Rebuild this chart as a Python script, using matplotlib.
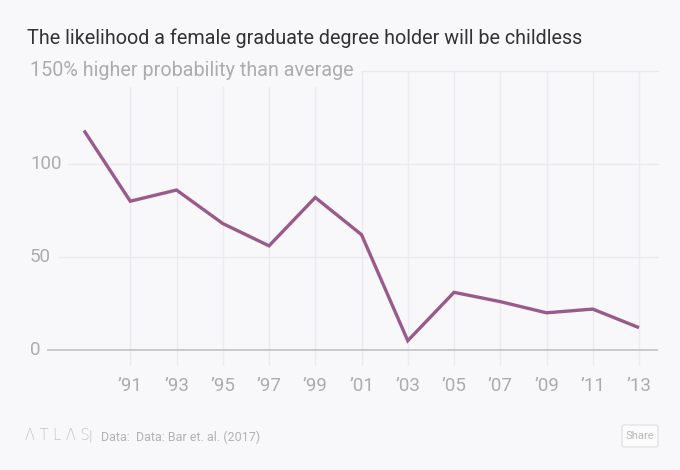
import matplotlib
matplotlib.use("Agg")
import matplotlib.pyplot as plt
import matplotlib.transforms as mtransforms
from matplotlib.patches import FancyBboxPatch

# ---- data ----
years = [1989, 1991, 1993, 1995, 1997, 1999, 2001, 2003, 2005, 2007, 2009, 2011, 2013]
values = [118, 80, 86, 68, 56, 82, 62, 5, 31, 26, 20, 22, 12]
tick_years = [1991, 1993, 1995, 1997, 1999, 2001, 2003, 2005, 2007, 2009, 2011, 2013]
tick_labels = ["\u201991", "\u201993", "\u201995", "\u201997", "\u201999", "\u201901",
               "\u201903", "\u201905", "\u201907", "\u201909", "\u201911", "\u201913"]
y_gridvals = [0, 50, 100, 150]
y_labels = ["0", "50", "100", "150% higher probability than average"]

title = "The likelihood a female graduate degree holder will be childless"
source = "Data:  Data: Bar et. al. (2017)"

BG = "#f8f7f9"
LINE = "#9a5a8b"
GRID = "#eceaef"
LABEL = "#acacac"

W, H = 680, 470
fig = plt.figure(figsize=(W / 100, H / 100), dpi=100, facecolor=BG)

# axes in pixel geometry
ax_left, ax_right = 47, 658
ax_top, ax_bottom = 71, 366
ax = fig.add_axes([ax_left / W, (H - ax_bottom) / H,
                   (ax_right - ax_left) / W, (ax_bottom - ax_top) / H])
ax.set_facecolor(BG)
for s in ax.spines.values():
    s.set_visible(False)

ax.set_xlim(1987.4, 2013.82)
ax.set_ylim(-8.6, 150)

# vertical grid
for yr in tick_years:
    ax.axvline(yr, color=GRID, lw=1, zorder=1)
# horizontal grid
for v in y_gridvals[1:]:
    ax.axhline(v, color=GRID, lw=1, zorder=1, clip_on=False)
ax.axhline(0, color="#bdbdbd", lw=1.1, zorder=2)

ax.plot(years, values, color=LINE, lw=2.4, zorder=4, solid_joinstyle="miter",
        solid_capstyle="butt")

ax.set_yticks([])
ax.set_xticks(tick_years)
ax.set_xticklabels(tick_labels, fontsize=13.5, color=LABEL, family="Roboto")
ax.tick_params(axis="x", length=0, pad=8)

# y labels with background boxes covering gridlines
trans = mtransforms.blended_transform_factory(fig.transFigure, ax.transData)
for v, lab in zip(y_gridvals, y_labels):
    size = 13.5 if v != 150 else 14.2
    ax.text(30 / W, v, lab, transform=trans, ha="left", va="center",
            fontsize=size, color=LABEL, family="Roboto",
            zorder=5, clip_on=False,
            bbox=dict(boxstyle="square,pad=0.35", fc=BG, ec="none"))

# title
fig.text(27 / W, 1 - 38 / H, title, ha="left", va="center", fontsize=14.2,
         color="#333333", family="Roboto")

# footer
fig.text(25 / W, 1 - 436 / H, "\u039b T L \u039b S", ha="left", va="center",
         fontsize=10.5, color="#c4c4c4", family="DejaVu Sans", fontweight="light")
fig.text(89 / W, 1 - 436 / H, "|", ha="left", va="center", fontsize=10,
         color="#cfcfcf", family="Roboto")
fig.text(101 / W, 1 - 437 / H, source, ha="left", va="center", fontsize=9,
         color="#b3b3b3", family="Roboto")

# share button
btn = FancyBboxPatch((622 / W, 1 - 447 / H), 36 / W, 22 / H,
                     boxstyle="round,pad=0,rounding_size=0.004",
                     transform=fig.transFigure, fc="#fbfbfc", ec="#e4e4e6", lw=1)
fig.patches.append(btn)
fig.text(640 / W, 1 - 436 / H, "Share", ha="center", va="center", fontsize=8,
         color="#b9b9b9", family="Roboto")

fig.savefig("out.png", dpi=100, facecolor=BG)
